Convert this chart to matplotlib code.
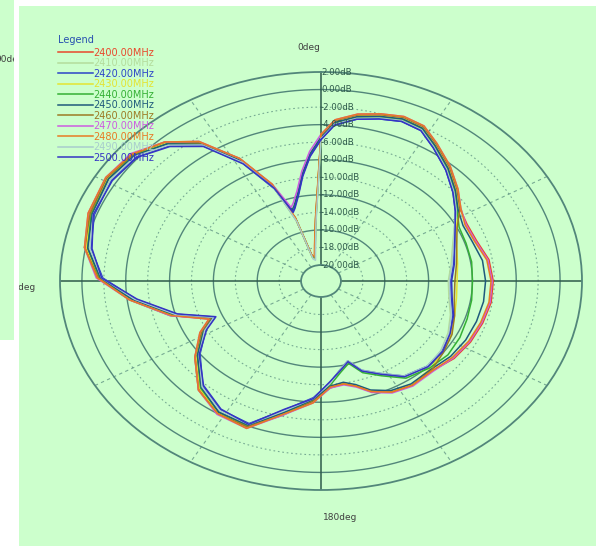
import matplotlib
matplotlib.use("Agg")
import matplotlib.pyplot as plt
import numpy as np

# measurement angles (deg, clockwise from top) and gain per frequency (dB)
angles_deg = [0, 4, 10, 16, 22, 28, 34, 42, 50, 57,
              64, 72, 81, 90, 99, 108, 117, 126,
              135,
              145, 153, 160, 165, 170,
              176, 183, 193, 202, 212, 222, 233, 242, 247, 254,
              263, 271, 280, 290, 301, 310, 318, 325, 332, 338,
              342, 344, 348, 352, 356, 360]

freqs = ["2400.00MHz", "2410.00MHz", "2420.00MHz", "2430.00MHz", "2440.00MHz", "2450.00MHz",
         "2460.00MHz", "2470.00MHz", "2480.00MHz", "2490.00MHz", "2500.00MHz"]

gain_2400 = [-5.2, -3.5, -2.6, -2.1, -1.7, -1.9, -3.0, -4.3, -5.6, -6.7,
             -7.0, -6.9, -6.3, -6.1, -6.1, -6.3, -6.5, -6.8,
             -7.4,
             -7.3, -7.6, -8.4, -9.4, -9.9,
             -9.7, -8.0, -6.2, -3.8, -4.0, -5.2, -7.5, -9.4, -10.8, -7.6,
             -4.3, -1.4, 0.0, 0.7, 1.0, 0.7, -0.6, -2.5, -6.1, -10.0,
             -14.3, -18.8, -19.0, -17.8, -14.8, -5.2]
gain_2410 = [-5.5, -3.8, -2.9, -2.4, -2.0, -2.2, -3.3, -4.6, -5.9, -7.0,
             -8.3, -9.2, -9.8, -10.2, -10.0, -9.4, -8.8, -8.3,
             -8.0,
             -8.5, -9.9, -10.9, -12.3, -11.5,
             -10.0, -8.3, -6.5, -4.1, -4.3, -5.5, -7.8, -9.7, -11.1, -7.9,
             -4.6, -1.7, -0.3, 0.4, 0.7, 0.4, -0.9, -2.8, -6.4, -10.3,
             -14.6, -19.1, -19.3, -18.1, -15.1, -5.5]
gain_2420 = [-5.7, -4.0, -3.1, -2.6, -2.2, -2.4, -3.5, -4.8, -6.1, -7.2,
             -8.2, -9.0, -9.6, -10.0, -9.8, -9.2, -8.6, -8.2,
             -8.1,
             -8.6, -10.0, -11.0, -12.4, -11.6,
             -10.2, -8.5, -6.7, -4.3, -4.5, -5.7, -8.0, -9.9, -11.3, -8.1,
             -4.8, -1.9, -0.5, 0.2, 0.5, 0.2, -1.1, -3.0, -6.6, -10.5,
             -13.5, -13.1, -11.8, -9.7, -7.5, -5.7]
gain_2430 = [-5.3, -3.6, -2.7, -2.2, -1.8, -2.0, -3.1, -4.4, -5.7, -6.8,
             -8.1, -8.8, -9.2, -9.4, -9.3, -9.0, -8.5, -8.1,
             -7.7,
             -7.4, -7.7, -8.5, -9.5, -10.0,
             -9.8, -8.1, -6.3, -3.9, -4.1, -5.3, -7.6, -9.5, -10.9, -7.7,
             -4.4, -1.5, -0.1, 0.6, 0.9, 0.6, -0.7, -2.6, -6.2, -10.1,
             -14.4, -18.9, -19.2, -17.9, -14.9, -5.3]
gain_2440 = [-5.5, -3.8, -2.9, -2.4, -2.0, -2.2, -3.3, -4.6, -5.9, -7.0,
             -7.8, -7.9, -7.9, -8.0, -7.9, -7.8, -7.6, -7.5,
             -7.8,
             -8.3, -9.7, -10.7, -12.1, -11.3,
             -9.9, -8.2, -6.4, -4.0, -4.2, -5.4, -7.7, -9.6, -11.0, -7.8,
             -4.5, -1.6, -0.2, 0.5, 0.8, 0.5, -0.8, -2.7, -6.3, -10.2,
             -14.5, -19.0, -19.1, -18.0, -15.0, -5.5]
gain_2450 = [-5.4, -3.7, -2.8, -2.3, -1.9, -2.1, -3.2, -4.5, -5.8, -6.9,
             -7.4, -7.3, -6.9, -6.8, -6.8, -6.9, -7.0, -7.2,
             -7.6,
             -7.5, -7.8, -8.6, -9.6, -10.1,
             -9.8, -8.3, -6.4, -4.1, -4.2, -5.5, -7.7, -9.7, -11.0, -7.9,
             -4.5, -1.7, -0.2, 0.4, 0.8, 0.4, -0.8, -2.8, -6.3, -10.2,
             -13.3, -12.9, -11.6, -9.5, -7.3, -5.4]
gain_2460 = [-5.2, -3.5, -2.6, -2.1, -1.7, -1.9, -3.0, -4.3, -5.6, -6.7,
             -8.0, -8.8, -9.3, -9.6, -9.5, -9.0, -8.4, -8.0,
             -7.5,
             -7.3, -7.6, -8.4, -9.4, -9.9,
             -9.6, -8.1, -6.1, -3.9, -4.0, -5.1, -7.4, -9.5, -10.9, -7.5,
             -4.2, -1.5, 0.1, 0.6, 1.0, 0.6, -0.5, -2.6, -6.0, -10.1,
             -14.3, -18.7, -19.1, -17.7, -14.7, -5.2]
gain_2470 = [-5.1, -3.4, -2.5, -2.0, -1.6, -1.8, -2.9, -4.2, -5.5, -6.6,
             -7.1, -7.0, -6.4, -6.2, -6.2, -6.4, -6.6, -6.9,
             -7.3,
             -7.2, -7.5, -8.3, -9.3, -9.8,
             -9.6, -7.9, -6.1, -3.7, -3.9, -5.1, -7.4, -9.3, -10.7, -7.5,
             -4.2, -1.3, 0.1, 0.8, 1.1, 0.8, -0.5, -2.4, -6.0, -9.9,
             -13.0, -12.6, -11.3, -9.2, -7.0, -5.1]
gain_2480 = [-5.1, -3.4, -2.5, -2.0, -1.6, -1.8, -2.9, -4.2, -5.5, -6.6,
             -7.2, -7.1, -6.5, -6.3, -6.3, -6.5, -6.7, -7.0,
             -7.4,
             -7.3, -7.6, -8.4, -9.4, -9.9,
             -9.7, -7.9, -6.2, -3.7, -4.0, -5.1, -7.4, -9.3, -10.7, -7.6,
             -4.2, -1.4, 0.1, 0.8, 1.1, 0.7, -0.5, -2.4, -6.0, -9.9,
             -14.2, -18.8, -18.9, -17.6, -14.6, -5.1]
gain_2490 = [-5.6, -3.9, -3.0, -2.5, -2.1, -2.3, -3.4, -4.7, -6.0, -7.1,
             -8.3, -9.1, -9.7, -10.1, -9.9, -9.3, -8.7, -8.3,
             -8.1,
             -8.6, -10.0, -11.0, -12.4, -11.6,
             -10.1, -8.4, -6.6, -4.2, -4.4, -5.6, -7.9, -9.8, -11.2, -8.0,
             -4.7, -1.8, -0.4, 0.3, 0.6, 0.3, -1.0, -2.9, -6.5, -10.4,
             -14.7, -19.2, -19.4, -18.2, -15.2, -5.6]
gain_2500 = [-5.7, -4.0, -3.1, -2.6, -2.2, -2.4, -3.5, -4.8, -6.1, -7.2,
             -8.2, -9.0, -9.5, -9.9, -9.7, -9.1, -8.6, -8.1,
             -8.0,
             -8.5, -9.9, -10.9, -12.3, -11.5,
             -10.3, -8.4, -6.8, -4.2, -4.6, -5.8, -7.9, -10.0, -11.4, -8.2,
             -4.9, -1.8, -0.6, 0.3, 0.4, 0.1, -1.2, -3.1, -6.7, -10.4,
             -13.6, -13.2, -11.9, -9.8, -7.6, -5.7]

gains = [gain_2400, gain_2410, gain_2420, gain_2430, gain_2440, gain_2450,
         gain_2460, gain_2470, gain_2480, gain_2490, gain_2500]
colors = ["#e8482c", "#b4dc9c", "#2c44c8", "#e4e430", "#34b034", "#1f5a7c",
          "#9c7a24", "#cc5ce0", "#e87a24", "#a8cccc", "#3434c4"]

ring_levels = list(range(-18, 1, 2))
label_levels = list(range(2, -21, -2))

W, H = 596, 546
BG = "#ccffcc"
GRID = "#52867a"
AXLINE = "#2e5a4a"


def rect(x0, y0, x1, y1):
    return [x0 / W, 1 - y1 / H, (x1 - x0) / W, (y1 - y0) / H]


def blank(a):
    a.set_facecolor(BG)
    a.set_xticks([]); a.set_yticks([])
    for s in a.spines.values():
        s.set_visible(False)


fig = plt.figure(figsize=(W / 100, H / 100), dpi=100, facecolor="white")

# window behind, on the left (its label is cut by the window edge)
side = fig.add_axes(rect(0, 0, 14, 340)); blank(side)
t = side.text(-5 / 14, 1 - 60 / 340, "90deg", transform=side.transAxes, fontsize=6.5,
              color="#404040", ha="left", va="center", clip_on=True)
t.set_clip_box(side.bbox)

panel = fig.add_axes(rect(19, 6, 596, 546)); blank(panel)
t = panel.text((36 - 19) / 577, 1 - 281 / 540, "270deg", transform=panel.transAxes,
               fontsize=6.5, color="#404040", ha="right", va="center", clip_on=True)
t.set_clip_box(panel.bbox)
panel.text((309 - 19) / 577, 1 - 41 / 540, "0deg", transform=panel.transAxes, fontsize=6.5,
           color="#404040", ha="center", va="center")
panel.text((340 - 19) / 577, 1 - 511 / 540, "180deg", transform=panel.transAxes, fontsize=6.5,
           color="#404040", ha="center", va="center")

# stretched polar chart
ax = fig.add_axes(rect(60, 72, 582, 490), projection="polar")
ax.set_aspect("auto")
ax.set_theta_zero_location("N")
ax.set_theta_direction(-1)
ax.set_ylim(-20, 2)
ax.set_rorigin(-21.82)
ax.patch.set_alpha(0)
ax.grid(False)
ax.set_xticks([]); ax.set_yticks([])
for s in ax.spines.values():
    s.set_color(GRID); s.set_linewidth(1.3)

ring = np.linspace(0, 2 * np.pi, 721)
for lev in ring_levels:
    if lev % 4 == 0:
        ax.plot(ring, np.full_like(ring, lev), color=GRID, lw=1.0)
    else:
        ax.plot(ring, np.full_like(ring, lev), color=GRID, lw=0.8, ls=(0, (1.5, 2.5)), alpha=0.7)
for a in range(0, 360, 30):
    th = np.deg2rad(a)
    if a % 90 == 0:
        ax.plot([th, th], [-20, 2], color=AXLINE, lw=1.1)
    else:
        ax.plot([th, th], [-20, 2], color=GRID, lw=0.8, ls=(0, (3, 3)), alpha=0.7)

theta = np.deg2rad(angles_deg)
handles = []
for g, c in zip(gains, colors):
    ln, = ax.plot(theta, g, color=c, lw=1.1)
    handles.append(ln)

for lev in label_levels:
    ax.text(0, lev, f"{lev:.2f}dB", fontsize=6.2, color=AXLINE, ha="left", va="center")

leg = fig.legend(handles, freqs, loc="upper left", bbox_to_anchor=(58 / W, 1 - 35 / H),
                 frameon=False, fontsize=7, handlelength=3.6, handletextpad=0.0,
                 labelspacing=0.05, borderpad=0, borderaxespad=0,
                 title="Legend", title_fontsize=7, alignment="left")
leg.get_title().set_color("#2850b0")
leg._legend_box.sep = 2
for txt, c in zip(leg.get_texts(), colors):
    txt.set_color(c)

fig.savefig("out.png", dpi=100, facecolor="white")
